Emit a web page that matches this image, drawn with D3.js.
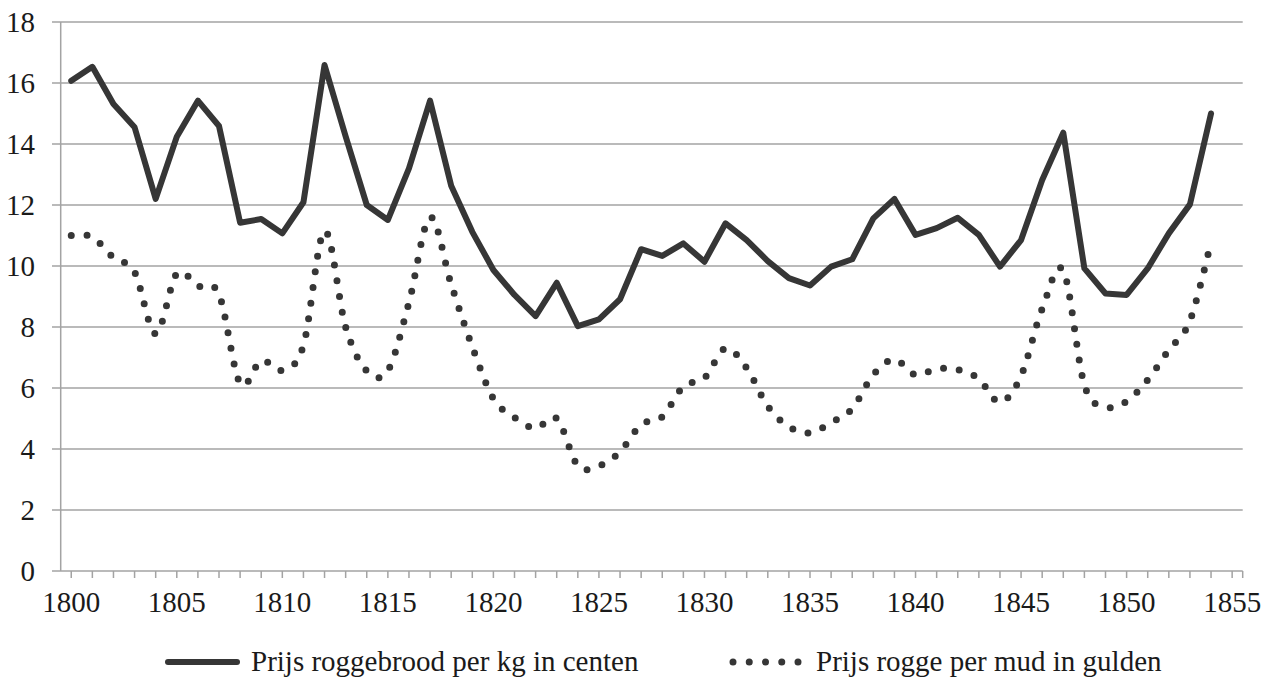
<!DOCTYPE html>
<html>
<head>
    <script src="https://d3js.org/d3.v7.min.js"></script>
    <style>
        body { margin: 0; background: #fff; }
        text { font-family: "Times New Roman", "Liberation Serif", serif; fill: #1a1a1a; }
    </style>
</head>
<body>
	<svg id="chart" width="1271" height="677"></svg>
	<script>
		// categories on the x axis (1855 has no data, only a label)
		var years = d3.range(1800, 1856);
		var xLabels = [1800, 1805, 1810, 1815, 1820, 1825, 1830, 1835, 1840, 1845, 1850, 1855];
		var yTicks = [0, 2, 4, 6, 8, 10, 12, 14, 16, 18];

		// Prijs roggebrood per kg in centen, 1800-1854
		var brood = [16.07, 16.53, 15.31, 14.55, 12.20, 14.24, 15.42, 14.59, 11.42, 11.54,
		             11.07, 12.09, 16.59, 14.25, 12.0, 11.51, 13.2, 15.42, 12.63, 11.12,
		             9.87, 9.05, 8.36, 9.45, 8.03, 8.25, 8.91, 10.55, 10.33, 10.74,
		             10.14, 11.40, 10.85, 10.16, 9.60, 9.36, 9.98, 10.22, 11.56, 12.20,
		             11.02, 11.24, 11.58, 11.02, 9.98, 10.85, 12.82, 14.37, 9.92, 9.10,
		             9.05, 9.92, 11.07, 12.02, 15.0];

		// Prijs rogge per mud in gulden, 1800-1854
		var rogge = [11.0, 10.95, 10.27, 9.8, 7.78, 9.75, 9.35, 9.07, 6.15, 6.9,
		             6.58, 7.4, 11.15, 8.0, 6.56, 6.57, 8.8, 11.6, 9.4, 7.35,
		             5.65, 5.03, 4.68, 5.0, 3.45, 3.45, 3.91, 4.8, 5.06, 6.05,
		             6.33, 7.3, 6.65, 5.4, 4.73, 4.53, 4.87, 5.32, 6.44, 6.94,
		             6.43, 6.63, 6.6, 6.3, 5.53, 6.4, 8.6, 9.85, 6.1, 5.38,
		             5.56, 6.27, 7.25, 8.2, 10.8];

		var seriesNames = ["Prijs roggebrood per kg in centen", "Prijs rogge per mud in gulden"];

		var svg = d3.select("#chart"),
			plotLeft = 60.7, plotRight = 1242.7, plotTop = 22, plotBottom = 571,
			gridColor = "#a3a3a3", lineColor = "#363636", fontSize = 29;

		var x = d3.scaleBand().domain(years).range([plotLeft, plotRight]).padding(0);
		var y = d3.scaleLinear().domain([0, 18]).range([plotBottom, plotTop]);
		var cx = function(yr) { return x(yr) + x.bandwidth() / 2; };

		// horizontal gridlines + y labels
		svg.append("g").selectAll("line")
			.data(yTicks.filter(function(d) { return d > 0; }))
			.enter().append("line")
			.attr("x1", 52).attr("x2", plotRight)
			.attr("y1", function(d) { return y(d); })
			.attr("y2", function(d) { return y(d); })
			.attr("stroke", gridColor).attr("stroke-width", 1.5);

		svg.append("g").selectAll("text")
			.data(yTicks)
			.enter().append("text")
			.attr("x", 35)
			.attr("y", function(d) { return y(d); })
			.attr("dy", "0.34em")
			.attr("text-anchor", "end")
			.attr("font-size", fontSize)
			.text(function(d) { return d; });

		// y axis line
		svg.append("line")
			.attr("x1", plotLeft).attr("x2", plotLeft).attr("y1", plotTop).attr("y2", plotBottom)
			.attr("stroke", gridColor).attr("stroke-width", 1.5);

		// x axis
		var xAxis = d3.axisBottom(x)
			.tickSizeInner(7).tickSizeOuter(0).tickPadding(13)
			.tickFormat(function(d) { return xLabels.indexOf(d) >= 0 ? d : ""; });
		var gx = svg.append("g").attr("transform", "translate(0," + plotBottom + ")").call(xAxis);
		gx.select(".domain").attr("stroke", gridColor).attr("stroke-width", 1.5)
			.attr("d", "M52,0H" + plotRight);
		gx.selectAll(".tick line").attr("stroke", gridColor).attr("stroke-width", 1.5);
		gx.selectAll(".tick text").attr("font-size", fontSize).attr("fill", "#1a1a1a");
		gx.append("line").attr("x1", plotRight).attr("x2", plotRight).attr("y1", 0).attr("y2", 7)
			.attr("stroke", gridColor).attr("stroke-width", 1.5);

		// series lines
		var solidLine = d3.line()
			.x(function(d, i) { return cx(years[i]); })
			.y(function(d) { return y(d); });

		var smoothLine = d3.line()
			.x(function(d, i) { return cx(years[i]); })
			.y(function(d) { return y(d); })
			.curve(d3.curveCatmullRom.alpha(0));

		var dotted = svg.append("path").datum(rogge)
			.attr("d", smoothLine)
			.attr("fill", "none").attr("stroke", lineColor)
			.attr("stroke-width", 7).attr("stroke-linecap", "round");
		// spread the dots so one lands on each end of the curve
		var len = dotted.node().getTotalLength();
		var gap = len / Math.round(len / 15.8);
		dotted.attr("stroke-dasharray", "0," + gap);

		svg.append("path").datum(brood)
			.attr("d", solidLine)
			.attr("fill", "none").attr("stroke", lineColor)
			.attr("stroke-width", 6).attr("stroke-linejoin", "round").attr("stroke-linecap", "round");

		// legend
		var legend = svg.append("g");
		legend.append("line")
			.attr("x1", 168).attr("x2", 237).attr("y1", 662).attr("y2", 662)
			.attr("stroke", lineColor).attr("stroke-width", 6).attr("stroke-linecap", "round");
		legend.append("text").attr("x", 251).attr("y", 671).attr("font-size", fontSize).text(seriesNames[0]);

		legend.append("line")
			.attr("x1", 733).attr("x2", 798.1).attr("y1", 662).attr("y2", 662)
			.attr("stroke", lineColor).attr("stroke-width", 7).attr("stroke-linecap", "round")
			.attr("stroke-dasharray", "0,16.25");
		legend.append("text").attr("x", 816).attr("y", 671).attr("font-size", fontSize).text(seriesNames[1]);
	</script>
</body>
</html>
